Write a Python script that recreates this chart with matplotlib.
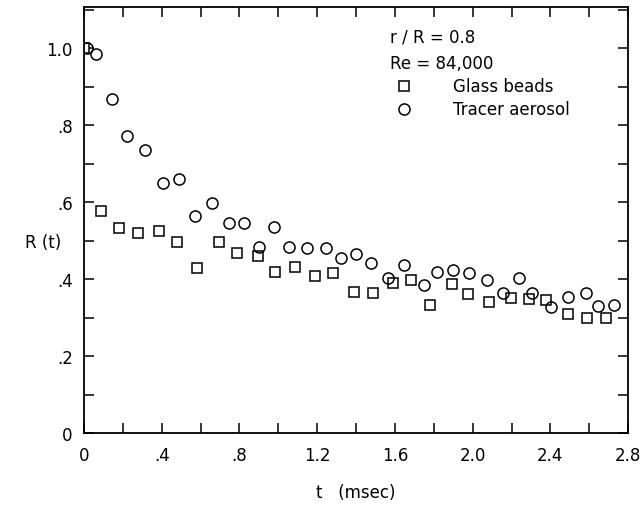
import matplotlib
matplotlib.use("Agg")
import matplotlib.pyplot as plt
from matplotlib.ticker import MultipleLocator, FixedLocator

# glass beads (squares)
t_beads = [0.0, 0.086, 0.182, 0.28, 0.386, 0.477, 0.58, 0.693, 0.786, 0.894,
           0.985, 1.088, 1.187, 1.283, 1.388, 1.486, 1.589, 1.683, 1.781, 1.892,
           1.975, 2.084, 2.196, 2.29, 2.376, 2.489, 2.59, 2.685]
r_beads = [1.0, 0.577, 0.534, 0.519, 0.524, 0.497, 0.428, 0.497, 0.469, 0.461,
           0.419, 0.432, 0.409, 0.415, 0.368, 0.365, 0.391, 0.397, 0.332, 0.387,
           0.361, 0.341, 0.351, 0.348, 0.345, 0.309, 0.298, 0.300]

# tracer aerosol (circles)
t_aer = [0.014, 0.062, 0.142, 0.223, 0.316, 0.405, 0.491, 0.571, 0.657, 0.746,
         0.825, 0.902, 0.979, 1.057, 1.146, 1.245, 1.323, 1.398, 1.477, 1.566,
         1.649, 1.751, 1.815, 1.898, 1.983, 2.072, 2.158, 2.239, 2.307, 2.403,
         2.489, 2.582, 2.647, 2.729]
r_aer = [1.0, 0.986, 0.868, 0.771, 0.736, 0.649, 0.660, 0.564, 0.599, 0.545,
         0.547, 0.484, 0.536, 0.484, 0.480, 0.480, 0.454, 0.466, 0.443, 0.404,
         0.437, 0.385, 0.419, 0.424, 0.416, 0.397, 0.363, 0.404, 0.363, 0.329,
         0.354, 0.365, 0.331, 0.332]

xticks = [0, 0.4, 0.8, 1.2, 1.6, 2.0, 2.4, 2.8]
xticklabels = ["0", ".4", ".8", "1.2", "1.6", "2.0", "2.4", "2.8"]
yticks = [0, 0.2, 0.4, 0.6, 0.8, 1.0]
yticklabels = ["0", ".2", ".4", ".6", ".8", "1.0"]

plt.rcParams['font.family'] = ['DejaVu Sans']

fig = plt.figure(figsize=(6.41, 5.06), dpi=100)
ax = fig.add_axes([0.131, 0.142, 0.849, 0.842])

ax.plot(t_beads, r_beads, ls='none', marker='s', ms=7.5, mfc='white',
        mec='black', mew=1.1)
ax.plot(t_aer, r_aer, ls='none', marker='o', ms=8, mfc='none',
        mec='black', mew=1.1)

ax.set_xlim(0, 2.8)
ax.set_ylim(0, 1.107)
ax.xaxis.set_major_locator(FixedLocator(xticks))
ax.set_xticklabels(xticklabels)
ax.xaxis.set_minor_locator(MultipleLocator(0.2))
ax.yaxis.set_major_locator(FixedLocator(yticks))
ax.set_yticklabels(yticklabels)
ax.yaxis.set_minor_locator(MultipleLocator(0.1))

ax.tick_params(which='both', direction='in', top=True, right=True,
               length=7, width=1.1, labelsize=12)
ax.tick_params(axis='x', pad=9)
ax.tick_params(axis='y', pad=8)
for s in ax.spines.values():
    s.set_linewidth(1.3)

ax.set_xlabel("t   (msec)", fontsize=12, labelpad=14)
ax.set_ylabel("R (t)", fontsize=12, rotation=0, ha='center', va='center')
ax.yaxis.set_label_coords(-0.075, 0.448)

ax.text(0.5625, 0.93, "r / R = 0.8", transform=ax.transAxes, fontsize=12,
        va='center')
ax.text(0.5625, 0.869, "Re = 84,000", transform=ax.transAxes, fontsize=12,
        va='center')
ax.plot([0.588], [0.815], transform=ax.transAxes, marker='s', ms=7.5,
        mfc='white', mec='black', mew=1.1, clip_on=False)
ax.text(0.678, 0.815, "Glass beads", transform=ax.transAxes, fontsize=12,
        va='center')
ax.plot([0.588], [0.761], transform=ax.transAxes, marker='o', ms=8,
        mfc='none', mec='black', mew=1.1, clip_on=False)
ax.text(0.678, 0.761, "Tracer aerosol", transform=ax.transAxes, fontsize=12,
        va='center')

fig.savefig("out.png", dpi=100)
